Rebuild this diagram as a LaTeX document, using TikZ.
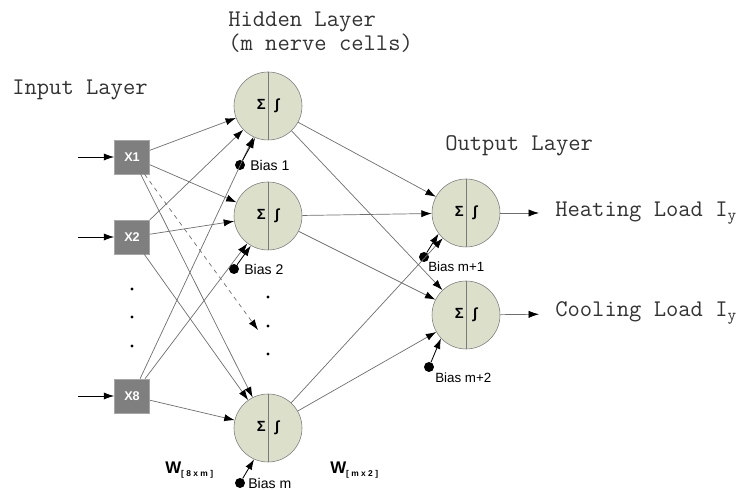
\documentclass[tikz,border=0pt]{standalone}
\usepackage{fontspec}
\setsansfont{Liberation Sans}
\usepackage{tikz}
\usetikzlibrary{arrows.meta, positioning, calc}
\definecolor{nncell}{HTML}{DCE0CB}
\definecolor{nncellline}{HTML}{7A7A7A}
\definecolor{nnbox}{HTML}{7F7F7F}
\definecolor{nnboxline}{HTML}{A6A6A6}
\definecolor{nnwire}{HTML}{6E6E6E}

\begin{document}
\begin{tikzpicture}[
  every node/.style={font=\sffamily},
  ttl/.style={anchor=west, inner sep=0pt, align=left, font=\ttfamily\fontsize{17}{14.5}\selectfont, text=black!80},
  inbox/.style={rectangle, draw=nnboxline, fill=nnbox, minimum width=0.875cm, minimum height=0.85cm, text=white, font=\sffamily\bfseries\fontsize{9}{10}\selectfont},
  cell/.style={circle, draw=nncellline, fill=nncell, minimum size=1.7cm, inner sep=0pt, font=\sffamily\bfseries\fontsize{10.5}{12}\selectfont},
  biasdot/.style={circle, fill=black, minimum size=0.25cm, inner sep=0pt},
  biaslbl/.style={anchor=west, inner sep=0pt, font=\sffamily\fontsize{10}{12}\selectfont},
  dotmark/.style={circle, fill=black, minimum size=0.08cm, inner sep=0pt},
  wire/.style={draw=nnwire, line width=0.5pt, -{Latex[length=2.6mm, width=1.8mm, color=black]}},
  biasarrow/.style={draw=black, line width=0.6pt, -{Latex[length=2.6mm, width=1.8mm]}},
]
\useasboundingbox (0,0) rectangle (18.6,12.25);

% Titles
\node[ttl] (thid) at (5.7, 11.45) {Hidden Layer\\(m nerve cells)};
\node[ttl] (tin) at (0.3, 10.0) {Input Layer};
\node[ttl] (tout) at (11.125, 8.6) {Output Layer};

% Input layer
\node[inbox] (x1) at (3.3, 8.325) {X1};
\node[inbox] (x2) at (3.3, 6.325) {X2};
\node[inbox] (x8) at (3.3, 2.35) {X8};
\coordinate (in1) at (1.95, 8.325);
\coordinate (in2) at (1.95, 6.325);
\coordinate (in8) at (1.95, 2.35);
\node[dotmark] (di1) at (3.3, 5.025) {};
\node[dotmark] (di2) at (3.3, 4.325) {};
\node[dotmark] (di3) at (3.3, 3.6) {};

% Hidden layer
\node[cell] (h1) at (6.7, 9.6) {Σ\hspace{2.4mm}∫};
\node[cell] (h2) at (6.7, 6.85) {Σ\hspace{2.4mm}∫};
\node[cell] (hm) at (6.7, 1.55) {Σ\hspace{2.4mm}∫};
\node[dotmark] (dh1) at (6.7, 4.825) {};
\node[dotmark] (dh2) at (6.7, 4.1) {};
\node[dotmark] (dh3) at (6.7, 3.4) {};
\coordinate (dashend) at (6.45, 4.0);

% Output layer
\node[cell] (o1) at (11.65, 6.925) {Σ\hspace{2.4mm}∫};
\node[cell] (o2) at (11.65, 4.375) {Σ\hspace{2.4mm}∫};
\node[ttl] (heat) at (13.875, 6.925) {Heating Load I\textsubscript{y}};
\node[ttl] (cool) at (13.875, 4.42) {Cooling Load I\textsubscript{y}};

% Dividers
\draw[nncellline, line width=0.5pt] (h1.north) -- (h1.south);
\draw[nncellline, line width=0.5pt] (h2.north) -- (h2.south);
\draw[nncellline, line width=0.5pt] (hm.north) -- (hm.south);
\draw[nncellline, line width=0.5pt] (o1.north) -- (o1.south);
\draw[nncellline, line width=0.5pt] (o2.north) -- (o2.south);

% Biases
\node[biasdot] (b1) at (6.0, 8.125) {};
\node[biasdot] (b2) at (5.85, 5.525) {};
\node[biasdot] (bm) at (6.0, 0.175) {};
\node[biasdot] (bo1) at (10.6, 5.825) {};
\node[biasdot] (bo2) at (10.725, 3.075) {};
\node[biaslbl] (lb1) at (6.25, 8.125) {Bias 1};
\node[biaslbl] (lb2) at (6.1, 5.525) {Bias 2};
\node[biaslbl] (lbm) at (6.2, 0.175) {Bias m};
\node[biaslbl, font=\sffamily\fontsize{9.5}{11}\selectfont] (lbo1) at (10.7, 5.575) {Bias m+1};
\node[biaslbl, font=\sffamily\fontsize{9.5}{11}\selectfont] (lbo2) at (10.875, 2.8) {Bias m+2};

% Weights
\node[biaslbl] (w1) at (4.125, 0.5) {\fontsize{12}{14}\selectfont\textbf{W}\textsubscript{\bfseries\fontsize{6}{7}\selectfont[ 8 x m ]}};
\node[biaslbl] (w2) at (8.25, 0.5) {\fontsize{12}{14}\selectfont\textbf{W}\textsubscript{\bfseries\fontsize{6}{7}\selectfont[ m x 2 ]}};

% Connections
\draw[biasarrow] (in1) -- (x1);
\draw[biasarrow] (in2) -- (x2);
\draw[biasarrow] (in8) -- (x8);
\draw[wire] (x1) -- (h1);
\draw[wire] (x1) -- (h2);
\draw[wire] (x1) -- (hm);
\draw[wire] (x2) -- (h1);
\draw[wire] (x2) -- (h2);
\draw[wire] (x2) -- (hm);
\draw[wire] (x8) -- (h1);
\draw[wire] (x8) -- (h2);
\draw[wire] (x8) -- (hm);
\draw[wire, dashed] (x1) -- (dashend);
\draw[wire] (h1) -- (o1);
\draw[wire] (h1) -- (o2);
\draw[wire] (h2) -- (o1);
\draw[wire] (h2) -- (o2);
\draw[wire] (hm) -- (o1);
\draw[wire] (hm) -- (o2);
\draw[biasarrow] (b1) -- (h1.-112);
\draw[biasarrow] (b2) -- (h2.-120);
\draw[biasarrow] (bm) -- (hm.-114);
\draw[biasarrow] (bo1) -- (o1.-143);
\draw[biasarrow] (bo2) -- (o2.-137);
\draw[wire, shorten >=4mm] (o1) -- (heat);
\draw[wire, shorten >=4mm] (o2) -- (cool);

\end{tikzpicture}
\end{document}
